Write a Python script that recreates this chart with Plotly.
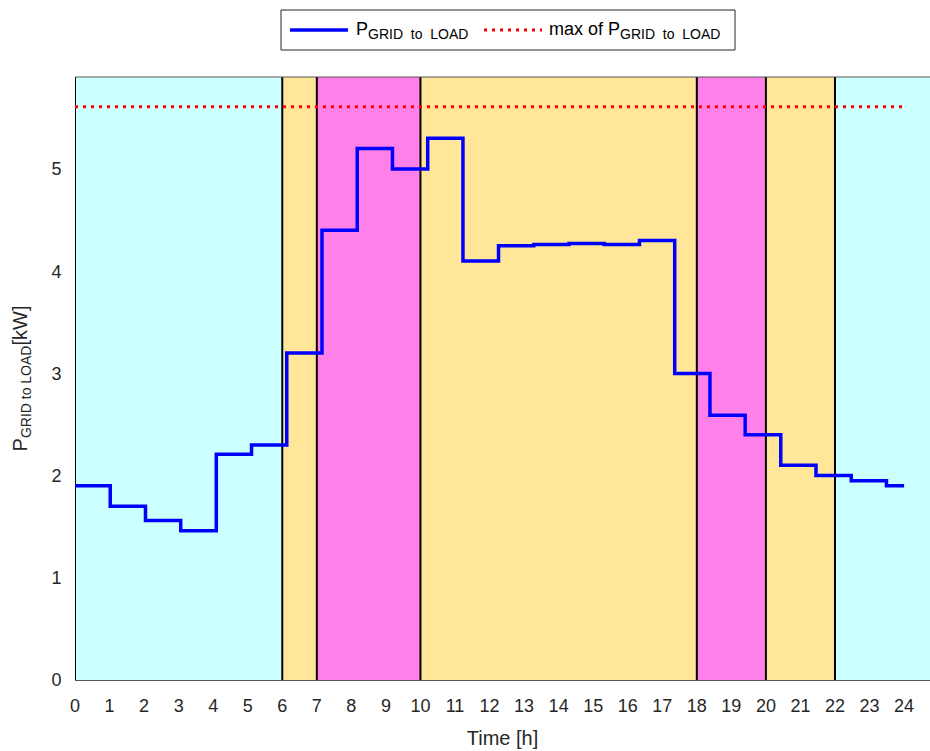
import plotly.graph_objects as go

# ---- data ----
step_times = [0, 1.02, 2.04, 3.06, 4.09, 5.11, 6.13, 7.15, 8.17, 9.19, 10.21, 11.23,
              12.26, 13.28, 14.30, 15.32, 16.34, 17.36, 18.38, 19.40, 20.43, 21.45,
              22.47, 23.49, 24.0]
p_grid_load = [1.9, 1.7, 1.56, 1.46, 2.21, 2.3, 3.2, 4.4, 5.2, 5.0, 5.3, 4.1,
               4.25, 4.26, 4.27, 4.26, 4.3, 3.0, 2.59, 2.4, 2.1, 2.0, 1.95, 1.9]
max_level = 5.61
max_span = [0, 24]

band_edges = [0, 6, 7, 10, 18, 20, 22, 24.75]
band_colors = ["#CCFFFF", "#FFE699", "#FF80E8", "#FFE699", "#FF80E8", "#FFE699", "#CCFFFF"]
divider_times = [0, 6, 7, 10, 18, 20, 22]
x_ticks = list(range(0, 25))
y_ticks = [0, 1, 2, 3, 4, 5]

series_names = ["P<sub><span style='font-size:14px'>GRID  to  LOAD</span></sub>",
                "max of P<sub><span style='font-size:14px'>GRID  to  LOAD</span></sub>"]

FONT = "Liberation Sans, Arial, sans-serif"

# figure geometry (page body margin removed by post_script)
W, H = 930, 751
ML, MT, MB, MR = 75, 77, 71, 0
PW = W - ML - MR
PH = H - MT - MB


def px(page_x):
    return (page_x - ML) / PW


def py(page_y):
    return 1 - (page_y - MT) / PH


fig = go.Figure()

fig.add_trace(go.Scatter(
    x=step_times, y=p_grid_load + [p_grid_load[-1]],
    mode="lines", line=dict(color="#0000FF", width=3.5, shape="hv"),
    name=series_names[0], showlegend=False))

fig.add_trace(go.Scatter(
    x=max_span, y=[max_level, max_level],
    mode="lines", line=dict(color="#FF0000", width=3, dash="3px,5px"),
    name=series_names[1], showlegend=False))

shapes = []
for i, c in enumerate(band_colors):
    shapes.append(dict(type="rect", xref="x", yref="paper",
                       x0=band_edges[i], x1=band_edges[i + 1], y0=0, y1=1,
                       fillcolor=c, line=dict(width=0), layer="below"))
for t in divider_times:
    shapes.append(dict(type="line", xref="x", yref="paper", x0=t, x1=t, y0=0, y1=1,
                       line=dict(color="black", width=2), layer="below"))
# thin top border
shapes.append(dict(type="line", xref="paper", yref="paper", x0=0, x1=1, y0=1, y1=1,
                   line=dict(color="#555555", width=1)))

# ---- legend box (drawn) ----
shapes.append(dict(type="rect", xref="paper", yref="paper",
                   x0=px(281), x1=px(735), y0=py(50), y1=py(10),
                   fillcolor="white", line=dict(color="#262626", width=1)))
shapes.append(dict(type="line", xref="paper", yref="paper",
                   x0=px(290), x1=px(348), y0=py(30), y1=py(30),
                   line=dict(color="#0000FF", width=3.5)))
shapes.append(dict(type="line", xref="paper", yref="paper",
                   x0=px(484), x1=px(542), y0=py(30), y1=py(30),
                   line=dict(color="#FF0000", width=3, dash="3px,5px")))

annotations = [
    dict(xref="paper", yref="paper", x=px(354), y=py(31), xanchor="left", yanchor="middle",
         text=series_names[0], showarrow=False,
         font=dict(family=FONT, size=18, color="black")),
    dict(xref="paper", yref="paper", x=px(547), y=py(31), xanchor="left", yanchor="middle",
         text=series_names[1], showarrow=False,
         font=dict(family=FONT, size=18, color="black")),
]

fig.update_layout(
    width=W, height=H,
    margin=dict(l=ML, r=MR, t=MT, b=MB),
    paper_bgcolor="white", plot_bgcolor="white",
    font=dict(family=FONT, size=18, color="#262626"),
    shapes=shapes,
    annotations=annotations,
    showlegend=False,
    xaxis=dict(range=[0, 24.75], tickmode="array", tickvals=x_ticks,
               ticktext=[str(v) for v in x_ticks], showgrid=False, zeroline=False,
               showline=True, linecolor="#555555", linewidth=1,
               ticks="outside", ticklen=9, tickcolor="rgba(0,0,0,0)",
               automargin=False,
               title=dict(text="Time [h]", font=dict(size=20), standoff=16),
               tickfont=dict(size=18)),
    yaxis=dict(range=[0, 5.90], tickmode="array", tickvals=y_ticks,
               ticktext=[str(v) for v in y_ticks], showgrid=False, zeroline=False,
               showline=False, ticks="outside", ticklen=9, tickcolor="rgba(0,0,0,0)",
               automargin=False,
               title=dict(text="P<sub><span style='font-size:14px'>GRID to LOAD</span></sub>[kW]",
                          font=dict(size=20), standoff=18),
               tickfont=dict(size=18)),
)

fig.write_html("out.html", config={"displayModeBar": False},
               post_script="document.body.style.margin='0';document.body.style.overflow='hidden';")
